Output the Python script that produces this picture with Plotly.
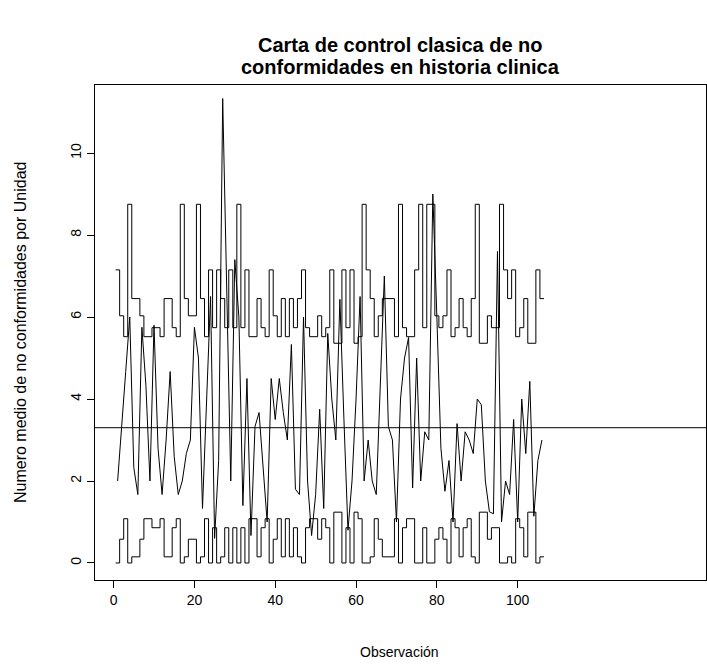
import plotly.graph_objects as go

# ---- data ----
observacion = list(range(1, 107))

# mean non-conformities per unit for each observation
u = [2.0, 3.25, 4.67, 6.0, 2.33, 1.67, 5.75, 4.33, 2.0, 5.8,
     2.8, 1.67, 3.0, 4.67, 2.6, 1.67, 2.0, 2.67, 3.0, 5.75,
     5.0, 1.33, 3.83, 6.5, 0.6, 2.5, 11.33, 6.6, 2.0, 7.4,
     6.0, 1.4, 4.5, 0.67, 3.33, 3.67, 2.2, 1.0, 4.5, 3.5,
     4.5, 3.67, 3.0, 5.33, 1.8, 1.67, 6.0, 2.0, 0.67, 1.67,
     3.75, 1.33, 5.6, 4.0, 3.0, 6.43, 3.5, 0.8, 2.0, 4.0,
     6.5, 2.0, 3.0, 2.0, 1.67, 4.5, 7.0, 3.33, 3.0, 1.0,
     4.0, 5.0, 5.5, 1.83, 5.0, 2.0, 3.2, 3.0, 9.0, 6.0,
     2.8, 1.75, 2.5, 1.0, 3.4, 2.0, 3.2, 3.0, 2.67, 4.0,
     3.86, 2.0, 1.25, 1.2, 7.6, 1.0, 2.0, 1.67, 3.5, 1.0,
     4.0, 2.67, 4.43, 1.14, 2.5, 3.0]

# units inspected in each observation (sets the control-limit step)
n_unidades = [2, 4, 6, 1, 3, 3, 4, 6, 6, 5,
              5, 6, 3, 3, 5, 6, 1, 3, 4, 4,
              1, 3, 6, 2, 5, 2, 3, 5, 2, 5,
              1, 5, 2, 6, 6, 3, 5, 6, 2, 4,
              6, 3, 6, 3, 5, 3, 2, 5, 6, 6,
              4, 6, 5, 2, 7, 7, 2, 5, 2, 7,
              6, 1, 2, 3, 6, 4, 3, 3, 3, 6,
              1, 5, 6, 6, 2, 1, 5, 1, 1, 4,
              5, 4, 2, 6, 5, 3, 5, 6, 3, 1,
              7, 7, 4, 5, 5, 1, 2, 3, 2, 6,
              5, 3, 7, 7, 2, 3]

# control-limit levels, by number of units
ucl_por_n = {1: 8.75, 2: 7.15, 3: 6.45, 4: 6.03, 5: 5.74, 6: 5.52, 7: 5.36}
lcl_por_n = {1: 0.0, 2: 0.0, 3: 0.15, 4: 0.58, 5: 0.86, 6: 1.08, 7: 1.24}
linea_central = 3.3

x_ticks = [0, 20, 40, 60, 80, 100]
y_ticks = [0, 2, 4, 6, 8, 10]

# ---- build centred step outlines for the variable limits ----
step_x, ucl_y, lcl_y = [], [], []
for xi, ni in zip(observacion, n_unidades):
    step_x += [xi - 0.5, xi + 0.5]
    ucl_y += [ucl_por_n[ni]] * 2
    lcl_y += [lcl_por_n[ni]] * 2

font = "Liberation Sans, Arial, Helvetica, sans-serif"
black_line = dict(color="black", width=1)

fig = go.Figure()
fig.add_trace(go.Scatter(x=step_x, y=ucl_y, mode="lines", line=black_line, hoverinfo="skip"))
fig.add_trace(go.Scatter(x=step_x, y=lcl_y, mode="lines", line=black_line, hoverinfo="skip"))
fig.add_trace(go.Scatter(x=observacion, y=u, mode="lines", line=black_line))
fig.add_shape(type="line", xref="paper", x0=0, x1=1, yref="y",
              y0=linea_central, y1=linea_central, line=black_line)

axis_common = dict(
    showline=True, linecolor="black", linewidth=1, mirror=True,
    ticks="outside", ticklen=7, tickcolor="black", tickwidth=1,
    showgrid=False, zeroline=False,
    tickfont=dict(family=font, size=14, color="black"),
)

fig.update_layout(
    width=707, height=664,
    margin=dict(l=95, r=1, t=85, b=84),
    paper_bgcolor="white", plot_bgcolor="white",
    showlegend=False,
    xaxis=dict(range=[-4.6, 146.6], tickvals=x_ticks, **axis_common),
    yaxis=dict(range=[-0.415, 11.66], tickvals=y_ticks, tickangle=-90, **axis_common),
    annotations=[
        dict(text="<b>Carta de control clasica de no</b>", xref="paper", yref="paper",
             x=0.5, y=1.081, xanchor="center", yanchor="middle", showarrow=False,
             font=dict(family=font, size=20, color="black")),
        dict(text="<b>conformidades en historia clinica</b>", xref="paper", yref="paper",
             x=0.5, y=1.037, xanchor="center", yanchor="middle", showarrow=False,
             font=dict(family=font, size=20, color="black")),
        dict(text="Observación", xref="paper", yref="paper",
             x=0.499, y=-0.1455, xanchor="center", yanchor="middle", showarrow=False,
             font=dict(family=font, size=14, color="black")),
        dict(text="Numero medio de no conformidades por Unidad", xref="paper", yref="paper",
             x=-0.1227, y=0.501, xanchor="center", yanchor="middle", showarrow=False,
             textangle=-90, font=dict(family=font, size=16, color="black")),
    ],
)

fig.write_html("out.html")
